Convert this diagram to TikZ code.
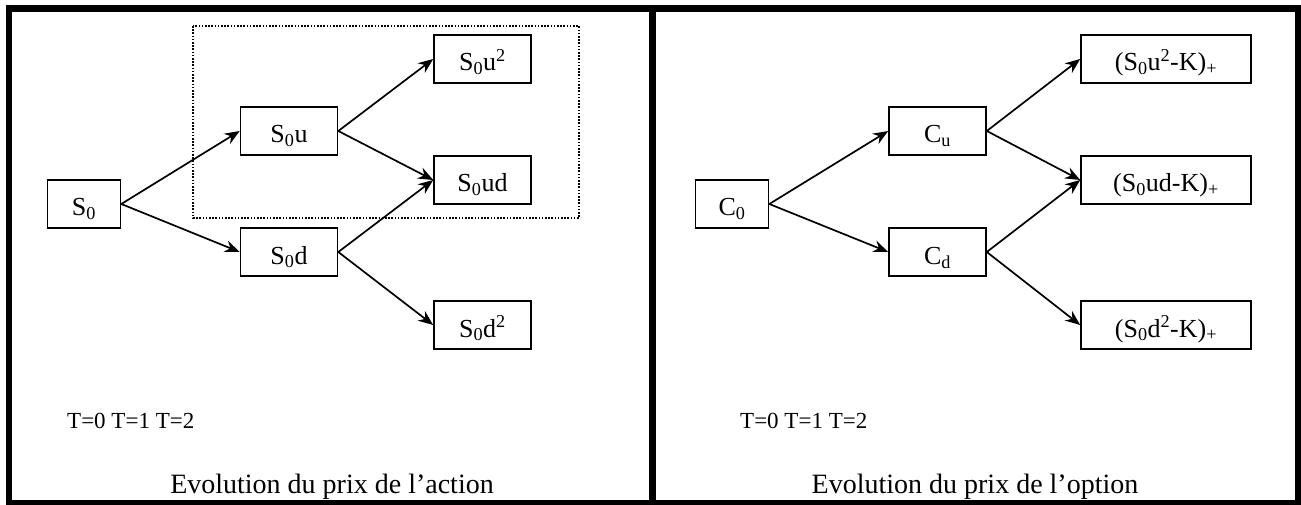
\documentclass[tikz,border=0pt]{standalone}
\usepackage{fontspec}
\setmainfont{Liberation Serif}
\usetikzlibrary{arrows.meta}
\tikzset{
  box/.style={draw, line width=1.6pt, rectangle, inner sep=0pt, minimum height=48pt, text height=24pt, text depth=0pt, anchor=center, font=\fontsize{26}{30}\selectfont},
  sbox/.style={box, minimum width=73pt},
  mbox/.style={box, minimum width=97pt},
  wbox/.style={box, minimum width=170pt},
  arr/.style={line width=1.7pt, -{Stealth[length=15pt,width=12pt,inset=5pt]}},
  frameline/.style={line width=6.5pt},
  dotbox/.style={line width=1.6pt, dash pattern=on 1.6pt off 1.6pt},
  ttext/.style={font=\fontsize{23}{26}\selectfont, anchor=west, inner sep=0pt},
  captext/.style={font=\fontsize{28}{32}\selectfont, inner sep=0pt}
}
\begin{document}
\begin{tikzpicture}[x=1pt,y=-1pt]
\useasboundingbox (0,0) rectangle (1301,505);
% frames
\draw[frameline] (9,8.5) rectangle (1298,503.5);
\draw[frameline] (652.5,8.5) -- (652.5,503.5);
% dotted box
\draw[dotbox] (193,26) rectangle (579,218);
% left tree
\node[sbox] (s0) at (84,204) {S\textsubscript{0}};
\node[mbox] (s0u) at (289,131) {S\textsubscript{0}u};
\node[mbox] (s0d) at (289,252) {S\textsubscript{0}d};
\node[mbox] (s0uu) at (482.5,59) {S\textsubscript{0}u\textsuperscript{2}};
\node[mbox] (s0ud) at (482.5,180) {S\textsubscript{0}ud};
\node[mbox] (s0dd) at (482.5,325) {S\textsubscript{0}d\textsuperscript{2}};
\draw[arr] (s0.east) -- (s0u.west);
\draw[arr] (s0.east) -- (s0d.west);
\draw[arr] (s0u.east) -- (s0uu.west);
\draw[arr] (s0u.east) -- (s0ud.west);
\draw[arr] (s0d.east) -- (s0ud.west);
\draw[arr] (s0d.east) -- (s0dd.west);
\node[ttext] (tl) at (67,421) {T=0 T=1 T=2};
\node[captext] (capl) at (332,487) {Evolution du prix de l’action};
% right tree
\node[sbox] (c0) at (732,204) {C\textsubscript{0}};
\node[mbox] (cu) at (937.5,131) {C\textsubscript{u}};
\node[mbox] (cd) at (937.5,252) {C\textsubscript{d}};
\node[wbox] (cuu) at (1166,59) {(S\textsubscript{0}u\textsuperscript{2}-K)\textsubscript{+}};
\node[wbox] (cud) at (1166,180) {(S\textsubscript{0}ud-K)\textsubscript{+}};
\node[wbox] (cdd) at (1166,325) {(S\textsubscript{0}d\textsuperscript{2}-K)\textsubscript{+}};
\draw[arr] (c0.east) -- (cu.west);
\draw[arr] (c0.east) -- (cd.west);
\draw[arr] (cu.east) -- (cuu.west);
\draw[arr] (cu.east) -- (cud.west);
\draw[arr] (cd.east) -- (cud.west);
\draw[arr] (cd.east) -- (cdd.west);
\node[ttext] (tr) at (740,421) {T=0 T=1 T=2};
\node[captext] (capr) at (975,487) {Evolution du prix de l’option};
\end{tikzpicture}
\end{document}
